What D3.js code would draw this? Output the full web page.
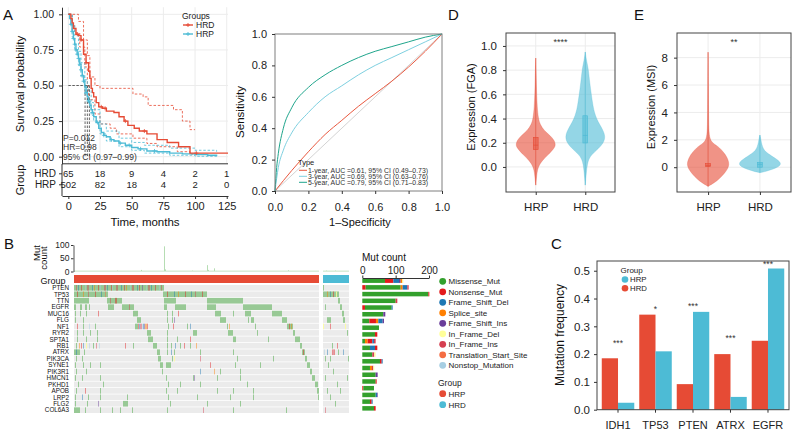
<!DOCTYPE html>
<html>
<head>
<meta charset="utf-8">
<title>HRD / HRP figure</title>
<script src="https://cdn.jsdelivr.net/npm/d3@7"></script>
<style>
  body { margin: 0; background: #fff; }
  svg { font-family: "Liberation Sans", Arial, Helvetica, sans-serif; }
</style>
</head>
<body>
<svg id="fig" width="793" height="434"></svg>
<script>
// ---------- data ----------
const red = "#E64B35", cyan = "#4DBBD5";

// A: Kaplan-Meier (time in months, survival)
const kmTicks = [0, 25, 50, 75, 100, 125];
const kmHRD = [[0,1],[2,0.97],[3,0.94],[4,0.9],[6,0.86],[8,0.85],[10,0.82],[12,0.72],[14,0.66],[16,0.6],[17,0.55],[18,0.48],[19,0.45],[20,0.42],[22,0.38],[24,0.35],[27,0.34],[30,0.32],[36,0.31],[40,0.28],[44,0.25],[47,0.22],[52,0.2],[56,0.18],[62,0.16],[70,0.12],[78,0.1],[87,0.07],[96,0.025],[126,0.025]];
const kmHRP = [[0,1],[1,0.97],[2,0.93],[3,0.88],[4,0.83],[5,0.79],[6,0.75],[7,0.72],[8,0.69],[9,0.65],[10,0.61],[11,0.57],[12,0.53],[13,0.49],[14,0.45],[15,0.42],[16,0.39],[17,0.36],[18,0.33],[19,0.31],[20,0.28],[22,0.24],[24,0.2],[26,0.17],[28,0.15],[30,0.14],[33,0.12],[36,0.11],[40,0.095],[45,0.08],[50,0.065],[55,0.055],[62,0.04],[70,0.035],[80,0.025],[90,0.02],[100,0.015],[110,0.01],[117,0.005]];
const kmHRDUpper = [[0,1],[2,1],[8,0.95],[12,0.82],[15,0.71],[17,0.56],[21,0.5],[25,0.48],[51,0.44],[59,0.42],[63,0.36],[83,0.33],[90,0.25],[96,0.19],[100,0.19]];
const kmHRDLower = [[0,1],[3,0.93],[5,0.87],[9,0.77],[13,0.63],[15,0.5],[16,0.4],[21,0.3],[25,0.23],[33,0.2],[38,0.16],[51,0.13],[62,0.093],[70,0.07],[86,0.035],[96,0.018],[100,0.018]];
const kmHRPUpper = [[0,1],[3,0.92],[5,0.85],[8,0.74],[10,0.66],[13,0.54],[15,0.47],[18,0.38],[20,0.33],[25,0.23],[30,0.18],[40,0.13],[50,0.1],[60,0.08],[80,0.06],[100,0.045],[117,0.035]];
const kmHRPLower = [[0,1],[3,0.84],[5,0.75],[8,0.64],[10,0.56],[13,0.44],[15,0.38],[18,0.29],[20,0.25],[25,0.16],[30,0.11],[40,0.07],[50,0.045],[60,0.025],[80,0.01],[100,0.003],[117,0]];
const kmHRDCensor = [7, 10, 14, 26, 29, 45, 60, 101];
const kmHRPCensor = [2, 3, 4, 5, 6, 7, 8, 9, 10, 11, 12, 14, 16, 19, 23, 28, 34, 41, 48, 57, 68];
const kmMedianTimes = [13.2, 15, 16.6];
const kmStats = ["P=0.012", "HR=0.98", "95% CI (0.97–0.99)"];
const riskGroups = ["HRD", "HRP"];
const riskHRD = [65, 18, 9, 4, 2, 1];
const riskHRP = [502, 82, 18, 4, 2, 0];

// A: time-dependent ROC (1-specificity, sensitivity)
const roc1 = [[0,0],[0.1,0.13],[0.2,0.25],[0.3,0.36],[0.4,0.45],[0.5,0.54],[0.6,0.62],[0.7,0.7],[0.8,0.79],[0.9,0.89],[1,1]];
const roc3 = [[0,0],[0.02,0.15],[0.05,0.26],[0.1,0.37],[0.2,0.5],[0.3,0.6],[0.4,0.67],[0.5,0.74],[0.6,0.8],[0.7,0.85],[0.8,0.9],[0.9,0.95],[1,1]];
const roc5 = [[0,0],[0.01,0.15],[0.02,0.24],[0.05,0.4],[0.1,0.53],[0.2,0.66],[0.3,0.74],[0.4,0.8],[0.5,0.85],[0.6,0.89],[0.7,0.92],[0.8,0.95],[0.9,0.98],[1,1]];
const rocLabels = ["1-year, AUC =0.61, 95% CI (0.49–0.73)", "3-year, AUC =0.69, 95% CI (0.63–0.76)", "5-year, AUC =0.79, 95% CI (0.71–0.83)"];
const rocColors = ["#E9583F", "#7ED0E0", "#1FA58C"];

// D / E: violin outlines (value, relative half width) and boxes [q1, median, q3]
const violinGroups = ["HRP", "HRD"];
const fgaHRP = [[-0.15,0],[-0.1,0.03],[-0.05,0.06],[0,0.12],[0.05,0.3],[0.1,0.62],[0.15,0.9],[0.18,1],[0.22,0.93],[0.26,0.72],[0.3,0.42],[0.35,0.22],[0.4,0.13],[0.5,0.07],[0.6,0.045],[0.7,0.03],[0.8,0.018],[0.9,0]];
const fgaHRD = [[-0.15,0],[-0.05,0.05],[0.05,0.12],[0.1,0.3],[0.15,0.65],[0.2,0.92],[0.25,1],[0.3,0.9],[0.35,0.72],[0.4,0.56],[0.45,0.46],[0.5,0.39],[0.6,0.3],[0.7,0.22],[0.8,0.16],[0.85,0.1],[0.9,0.04],[0.95,0]];
const fgaBox = [[0.143, 0.18, 0.245], [0.198, 0.26, 0.423]];
const msiHRP = [[-1.4,0],[-1.2,0.22],[-1,0.42],[-0.7,0.63],[-0.4,0.8],[-0.1,0.94],[0.2,1],[0.5,0.96],[0.8,0.87],[1,0.78],[1.3,0.62],[1.5,0.48],[1.7,0.28],[1.9,0.14],[2.2,0.07],[2.6,0.045],[3,0.032],[4,0.022],[6,0.013],[8.4,0]];
const msiHRD = [[-0.4,0],[-0.3,0.3],[-0.15,0.6],[0,0.85],[0.2,1],[0.4,0.95],[0.6,0.78],[0.8,0.58],[1,0.38],[1.2,0.22],[1.5,0.12],[1.8,0.07],[2.1,0.04],[2.35,0]];
const msiBox = [[0.05, 0.12, 0.27], [0.0, 0.2, 0.35]];

// B: oncoplot
const genes = ["PTEN","TP53","TTN","EGFR","MUC16","FLG","NF1","RYR2","SPTA1","RB1","ATRX","PIK3CA","SYNE1","PIK3R1","HMCN1","PKHD1","APOB","LRP2","FLG2","COL6A3"];
const mutTypes = ["Missense_Mut","Nonsense_Mut","Frame_Shift_Del","Splice_site","Frame_Shift_Ins","In_Frame_Del","In_Frame_Ins","Translation_Start_Site","Nonstop_Mutation"];
const mutCodes = ["M","N","D","S","I","d","i","T","X"];
const mutColors = ["#33A02C","#E31A1C","#1F78B4","#FF7F00","#6A3D9A","#FFFF99","#D53E4F","#F46D43","#A6CEE3"];
const groupNames = ["HRP", "HRD"];
const hrpN = 245, hrdN = 26;
// [start, end, type] ; [i] ; [i, type]
const hrpMuts = {
  PTEN: [[0,89],[2,"i"],[4,"D"],[7,"N"],[11,"X"],[13,14,"i"],[18,"D"],[20,"S"],[24,"N"],[26,"X"],[30,31,"i"],[33,"D"],[37,"N"],[38,"X"],[42,43,"i"],[47,"D"],[50,"N"],[52,"S"],[56,"X"],[58,59,"i"],[63,"D"],[65,"N"],[68,"I"],[72,"X"],[74,75,"i"],[77,"D"],[81,"N"],[85,"X"],[87,"i"]],
  TP53: [[0,33],[89,132],[3,"N"],[9,"S"],[14,"i"],[21,"N"],[27,"D"],[31,"T"],[93,"N"],[100,"D"],[104,"S"],[111,"N"],[117,"D"],[121,"i"],[128,"N"]],
  TTN: [[0,14],[33,47],[90,101],[133,168],[36,"i"],[41,42,"N"]],
  EGFR: [[0,1],[6,7],[11,12],[15],[34,39],[48,59],[90,92],[101,111],[133,141],[169,197],[55,"i"]],
  MUC16: [[1],[6],[12],[24,"N"],[59,63],[93],[98],[141,146],[159],[171,176],[198,207],[104,"N"]],
  FLG: [[1],[9],[63,66],[93],[98],[100,"I"],[146,151],[174],[177,179],[208,212]],
  NF1: [[3,"N"],[9],[15,"X"],[21],[61,63],[64,"N"],[65,"D"],[66,67,"i"],[68,"X"],[69,"D"],[70,"I"],[71,72,"S"],[73,"N"],[94],[99,"N"],[113],[116,"D"],[153],[155,"S"],[181],[213,218],[215,"N"],[217,"S"]],
  RYR2: [[3],[9],[16],[23],[73,76],[93],[119,122],[154,158],[183],[219,220]],
  SPTA1: [[3],[12],[23],[74,78],[93],[103],[116,"N"],[159,161],[194],[221,225]],
  RB1: [[2],[5,"S"],[7,"N"],[9,"D"],[12,"d"],[15,"X"],[19],[22,"i"],[25,"X"],[51,"N"],[59],[79,82],[93],[97],[101,"D"],[106],[110,"N"],[116],[122,"S"],[226,227]],
  ATRX: [[0,5],[2,"D"],[10],[83,85],[93],[97,"D"],[100],[126],[159],[228,230],[229,"N"]],
  PIK3CA: [[2],[8],[84,86],[98],[100,"d"],[126,"i"],[163],[199],[231,232]],
  SYNE1: [[1],[9],[16],[26],[86,88],[92,96],[136,"N"],[161],[186],[233,235]],
  PIK3R1: [[2],[12],[88],[126,"D"],[140,"S"],[146],[166],[236,237]],
  HMCN1: [[1],[8],[26],[92],[119],[120,"I"],[143],[166],[238,240]],
  PKHD1: [[4],[29],[94],[106],[126],[173],[241,243]],
  APOB: [[2],[11,"N"],[26],[92],[103],[143],[159],[179],[243,244]],
  LRP2: [[1],[8,"D"],[14],[26],[53],[94],[123],[156],[179],[244]],
  FLG2: [[1],[13],[24,"I"],[49,53],[96],[133],[166]],
  COL6A3: [[0,5],[11],[26],[38],[46],[58],[93],[129,"i"],[159],[212]]
};
const hrdMuts = {
  PTEN: [[0]],
  TP53: [[0,15],[4,"S"],[7,"D"],[10,"N"],[13,"d"]],
  TTN: [[15,16]],
  EGFR: [[2],[17,18]],
  MUC16: [[19,20]],
  FLG: [[4,7],[20,21]],
  NF1: [[0,"d"],[7,"N"],[22,"d"]],
  RYR2: [[24]],
  SPTA1: [],
  RB1: [[9],[14,"N"]],
  ATRX: [[1,"X"],[4,"D"],[9,"N"],[10,"i"],[11,"N"],[15],[20,"D"]],
  PIK3CA: [[2],[7],[25]],
  SYNE1: [[5]],
  PIK3R1: [[10]],
  HMCN1: [[2],[24]],
  PKHD1: [[14]],
  APOB: [[4],[17]],
  LRP2: [[7]],
  FLG2: [[12]],
  COL6A3: [[2,"i"]]
};
// per-sample mutation burden: typical value plus the visible peaks [sample, count]
const hrpBurdenTypical = 3, hrdBurdenTypical = 3;
const hrpBurdenPeaks = [[90,95],[91,8],[133,24],[134,6],[140,12],[67,6],[43,4],[214,5],[118,4]];
const hrdBurdenPeaks = [[3,4],[12,4]];
const burdenTicks = [0, 50, 100];
// per-gene mutation counts by type (code, count)
const geneCounts = {
  PTEN: [["M",68],["N",25],["D",17],["I",5],["S",5],["d",3]],
  TP53: [["N",10],["M",105],["S",6],["D",14],["i",4]],
  TTN: [["M",198],["N",3]],
  EGFR: [["M",100],["i",5]],
  MUC16: [["N",8],["M",80],["D",3]],
  FLG: [["M",63],["I",6]],
  NF1: [["M",21],["N",20],["S",7],["D",13],["I",4]],
  RYR2: [["M",50]],
  SPTA1: [["M",38],["N",7]],
  RB1: [["M",8],["S",8],["N",14],["D",5],["i",5]],
  ATRX: [["M",23],["D",15],["N",7]],
  PIK3CA: [["M",30],["i",6],["d",4]],
  SYNE1: [["M",53],["N",5],["D",3]],
  PIK3R1: [["M",23],["S",6],["i",4],["d",3]],
  HMCN1: [["M",40],["I",6]],
  PKHD1: [["M",40],["N",3]],
  APOB: [["N",3],["M",32]],
  LRP2: [["M",40],["D",4],["I",2]],
  FLG2: [["M",23],["N",5],["D",3]],
  COL6A3: [["M",35],["N",5]]
};
const countTicks = [0, 100, 200];

// C: mutation frequency
const cGenes = ["IDH1","TP53","PTEN","ATRX","EGFR"];
const cHRD = [0.185, 0.342, 0.092, 0.2, 0.248];
const cHRP = [0.025, 0.21, 0.352, 0.046, 0.508];
const cSig = ["***", "*", "***", "***", "***"];
const cSigAt = [0.247, 0.369, 0.377, 0.263, 0.528];
const cTicks = [0, 0.1, 0.2, 0.3, 0.4, 0.5];

// ---------- drawing ----------
const svg = d3.select("#fig");
svg.append("rect").attr("width", 793).attr("height", 434).attr("fill", "#fff");

function styleAxis(g, fs) {
  g.attr("font-family", null).attr("font-size", fs);
  g.selectAll("text").attr("fill", "#222");
  g.selectAll(".tick line").attr("stroke", "#333");
  g.select(".domain").attr("stroke", "#333");
  return g;
}
function label(x, y, s, fs, anchor, rot) {
  const t = svg.append("text").attr("font-size", fs).attr("fill", "#111")
    .attr("text-anchor", anchor || "start").text(s);
  if (rot) t.attr("transform", `translate(${x},${y}) rotate(-90)`);
  else t.attr("x", x).attr("y", y);
  return t;
}
// panel letters
[["A",3,20],["D",448,20],["E",634,20],["B",4,249],["C",551,249]].forEach(d => label(d[1], d[2], d[0], 15));

// ===== A: KM =====
const kmX = d3.scaleLinear().domain([-5, 126]).range([62, 228]);
const kmY = d3.scaleLinear().domain([-0.05, 1.05]).range([163.8, 7.2]);
const km = svg.append("g");
km.append("g").selectAll("line").data(kmTicks).join("line")
  .attr("x1", d => kmX(d)).attr("x2", d => kmX(d)).attr("y1", kmY.range()[0]).attr("y2", kmY.range()[1])
  .attr("stroke", "#ececec");
km.append("g").selectAll("line").data([0, 0.25, 0.5, 0.75, 1]).join("line")
  .attr("x1", 62).attr("x2", 228).attr("y1", d => kmY(d)).attr("y2", d => kmY(d)).attr("stroke", "#ececec");

const step = d3.line().curve(d3.curveStepAfter).x(d => kmX(d[0])).y(d => kmY(d[1]));
[[kmHRDUpper, red], [kmHRDLower, red], [kmHRPUpper, cyan], [kmHRPLower, cyan]].forEach(([d, c]) =>
  km.append("path").attr("d", step(d)).attr("fill", "none").attr("stroke", c)
    .attr("stroke-width", 0.8).attr("stroke-dasharray", "2.5,1.8"));

// median lines
const medMax = d3.max(kmMedianTimes);
km.append("line").attr("x1", kmX(0)).attr("x2", kmX(medMax)).attr("y1", kmY(0.5)).attr("y2", kmY(0.5))
  .attr("stroke", "#222").attr("stroke-width", 0.7).attr("stroke-dasharray", "2.5,1.5");
km.selectAll(".med").data(kmMedianTimes).join("line")
  .attr("x1", d => kmX(d)).attr("x2", d => kmX(d)).attr("y1", kmY(0.5)).attr("y2", kmY(0))
  .attr("stroke", "#222").attr("stroke-width", 0.7).attr("stroke-dasharray", "2.5,1.5");

function survAt(curve, t) {
  let s = curve[0][1];
  for (const p of curve) { if (p[0] <= t) s = p[1]; else break; }
  return s;
}
[[kmHRP, kmHRPCensor, cyan], [kmHRD, kmHRDCensor, red]].forEach(([d, cens, c]) => {
  km.append("path").attr("d", step(d)).attr("fill", "none").attr("stroke", c).attr("stroke-width", 1.4);
  km.append("g").selectAll("path").data(cens).join("path")
    .attr("d", t => { const x = kmX(t), y = kmY(survAt(d, t)); return `M${x-2},${y}H${x+2}M${x},${y-2}V${y+2}`; })
    .attr("stroke", c).attr("stroke-width", 0.8);
});
kmStats.forEach((s, i) => km.append("text").attr("x", 63).attr("y", 140.5 + i * 9.8)
  .attr("font-size", 8.5).attr("fill", "#333").text(s));
// legend
km.append("text").attr("x", 182).attr("y", 19).attr("font-size", 8.5).attr("fill", "#222").text("Groups");
[["HRD", red], ["HRP", cyan]].forEach(([g, c], i) => {
  const y = 25 + i * 9;
  km.append("line").attr("x1", 183).attr("x2", 193).attr("y1", y).attr("y2", y).attr("stroke", c).attr("stroke-width", 1.4);
  km.append("path").attr("d", `M186,${y}H190M188,${y-2}V${y+2}`).attr("stroke", c).attr("stroke-width", 0.9);
  km.append("text").attr("x", 196).attr("y", y + 3).attr("font-size", 8.5).attr("fill", "#222").text(g);
});
styleAxis(km.append("g").attr("transform", "translate(62,0)")
  .call(d3.axisLeft(kmY).tickValues([0, 0.25, 0.5, 0.75, 1]).tickFormat(d3.format(".2f")).tickSize(3).tickSizeOuter(0).tickPadding(5)), 10.5);
km.append("line").attr("x1", 62).attr("x2", 228).attr("y1", 163.8).attr("y2", 163.8).attr("stroke", "#333");
label(24, 84, "Survival probability", 11.5, "middle", true);

// risk table
const riskY = d3.scalePoint().domain(riskGroups).range([173.3, 184.3]);
const rt = styleAxis(km.append("g").attr("transform", "translate(62,0)")
  .call(d3.axisLeft(riskY).tickSize(3).tickPadding(3)), 10);
rt.select(".domain").remove();
km.append("line").attr("x1", 62).attr("x2", 62).attr("y1", 164).attr("y2", 196).attr("stroke", "#333");
[[riskHRD, "HRD"], [riskHRP, "HRP"]].forEach(([vals, g]) =>
  km.append("g").selectAll("text").data(vals).join("text")
    .attr("x", (d, i) => kmX(kmTicks[i])).attr("y", riskY(g)).attr("dy", "0.35em")
    .attr("text-anchor", "middle").attr("font-size", 9.5).attr("fill", "#222").text(d => d));
styleAxis(km.append("g").attr("transform", "translate(0,196)")
  .call(d3.axisBottom(kmX).tickValues(kmTicks).tickSize(3).tickSizeOuter(0).tickPadding(3)), 11);
label(24, 180, "Group", 11, "middle", true);
label(145, 226, "Time, months", 11.5, "middle");

// ===== A: ROC =====
const rocX = d3.scaleLinear().domain([0, 1]).range([275, 442]);
const rocY = d3.scaleLinear().domain([0, 1]).range([191, 34]);
const roc = svg.append("g");
roc.append("line").attr("x1", rocX(0)).attr("y1", rocY(0)).attr("x2", rocX(1)).attr("y2", rocY(1)).attr("stroke", "#c8c8c8").attr("stroke-width", 0.8);
const rocLine = d3.line().curve(d3.curveMonotoneX).x(d => rocX(d[0])).y(d => rocY(d[1]));
[roc1, roc3, roc5].forEach((d, i) => roc.append("path").attr("d", rocLine(d)).attr("fill", "none")
  .attr("stroke", rocColors[i]).attr("stroke-width", 1));
roc.append("rect").attr("x", 275).attr("y", 34).attr("width", 167).attr("height", 157)
  .attr("fill", "none").attr("stroke", "#7f7f7f");
const rocTicks = [0, 0.2, 0.4, 0.6, 0.8, 1];
styleAxis(roc.append("g").attr("transform", "translate(275,0)")
  .call(d3.axisLeft(rocY).tickValues(rocTicks).tickFormat(d3.format(".1f")).tickSize(3).tickPadding(5)), 11)
  .select(".domain").remove();
styleAxis(roc.append("g").attr("transform", "translate(0,191)")
  .call(d3.axisBottom(rocX).tickValues(rocTicks).tickFormat(d3.format(".1f")).tickSize(3).tickPadding(9)), 11)
  .select(".domain").remove();
roc.append("text").attr("x", 298).attr("y", 165).attr("font-size", 7.5).attr("fill", "#222").text("Type");
rocLabels.forEach((s, i) => {
  const y = 170.3 + i * 6;
  roc.append("line").attr("x1", 299).attr("x2", 307).attr("y1", y).attr("y2", y).attr("stroke", rocColors[i]);
  roc.append("text").attr("x", 308).attr("y", y + 2.4).attr("font-size", 6.9).attr("fill", "#333").text(s);
});
label(244, 112, "Sensitivity", 11.5, "middle", true);
label(360, 225.5, "1–Specificity", 11, "middle");

// ===== D / E: violins =====
function violinPanel(opt) {
  const g = svg.append("g");
  const x = d3.scalePoint().domain(violinGroups).range([opt.x0, opt.x1]).padding(0.6);
  const y = d3.scaleLinear().domain(opt.dom).range([192, 33]);
  g.append("g").selectAll("line").data(opt.ticks).join("line")
    .attr("x1", opt.x0).attr("x2", opt.x1).attr("y1", d => y(d)).attr("y2", d => y(d)).attr("stroke", "#ececec");
  g.append("g").selectAll("line").data(violinGroups).join("line")
    .attr("x1", d => x(d)).attr("x2", d => x(d)).attr("y1", 33).attr("y2", 192).attr("stroke", "#ececec");
  const cols = [red, cyan];
  opt.profiles.forEach((prof, i) => {
    const xc = x(violinGroups[i]);
    const area = d3.area().curve(d3.curveBasis).y(d => y(d[0]))
      .x0(d => xc - d[1] * opt.wMax).x1(d => xc + d[1] * opt.wMax);
    g.append("path").attr("d", area(prof)).attr("fill", cols[i]).attr("fill-opacity", 0.6)
      .attr("stroke", cols[i]).attr("stroke-opacity", 0.45).attr("stroke-width", 0.6);
    const ext = d3.extent(prof, d => d[0]);
    g.append("line").attr("x1", xc).attr("x2", xc).attr("y1", y(ext[0])).attr("y2", y(ext[1]))
      .attr("stroke", cols[i]).attr("stroke-opacity", 0.7).attr("stroke-width", 0.8);
    const b = opt.boxes[i];
    g.append("rect").attr("x", xc - 2.4).attr("width", 4.8).attr("y", y(b[2])).attr("height", y(b[0]) - y(b[2]))
      .attr("fill", cols[i]).attr("fill-opacity", 0.5).attr("stroke", cols[i]).attr("stroke-width", 0.6);
    g.append("line").attr("x1", xc - 2.4).attr("x2", xc + 2.4).attr("y1", y(b[1])).attr("y2", y(b[1]))
      .attr("stroke", cols[i]).attr("stroke-width", 0.6);
  });
  g.append("rect").attr("x", opt.x0).attr("y", 33).attr("width", opt.x1 - opt.x0).attr("height", 159)
    .attr("fill", "none").attr("stroke", "#444");
  styleAxis(g.append("g").attr("transform", `translate(${opt.x0},0)`)
    .call(d3.axisLeft(y).tickValues(opt.ticks).tickFormat(d3.format(opt.fmt)).tickSize(3).tickPadding(6)), 11.5)
    .select(".domain").remove();
  styleAxis(g.append("g").attr("transform", "translate(0,192)")
    .call(d3.axisBottom(x).tickSize(3).tickPadding(8)), 11.5).select(".domain").remove();
  g.append("text").attr("x", (opt.x0 + opt.x1) / 2).attr("y", 45).attr("text-anchor", "middle")
    .attr("font-size", 9).attr("fill", "#333").text(opt.sig);
  label(opt.titleX, 107, opt.title, 11, "middle", true);
}
violinPanel({ x0: 506, x1: 615, dom: [-0.207, 1.107], ticks: [0, 0.2, 0.4, 0.6, 0.8, 1], fmt: ".1f",
  profiles: [fgaHRP, fgaHRD], boxes: fgaBox, wMax: 20, sig: "****", title: "Expression (FGA)", titleX: 475 });
violinPanel({ x0: 677, x1: 791, dom: [-1.81, 9.8], ticks: [0, 2, 4, 6, 8], fmt: "d",
  profiles: [msiHRP, msiHRD], boxes: msiBox, wMax: 21, sig: "**", title: "Expression (MSI)", titleX: 655 });

// ===== B: oncoplot =====
const ob = svg.append("g");
const onX = [d3.scaleLinear().domain([0, hrpN]).range([74, 319]), d3.scaleLinear().domain([0, hrdN]).range([323, 349])];
const onY = d3.scaleBand().domain(genes).range([285, 413]).paddingInner(0.12);
const burdenY = d3.scaleLinear().domain([0, 100]).range([271.5, 245]);
const typeColor = c => mutColors[mutCodes.indexOf(c)];
function norm(e) {
  if (e.length === 1) return [e[0], e[0], "M"];
  if (typeof e[1] === "string") return [e[0], e[0], e[1]];
  return [e[0], e[1], e[2] || "M"];
}
[hrpMuts, hrdMuts].forEach((muts, k) => {
  const xs = onX[k];
  ob.append("g").selectAll("rect").data(genes).join("rect")
    .attr("x", xs.range()[0]).attr("width", xs.range()[1] - xs.range()[0])
    .attr("y", d => onY(d)).attr("height", onY.bandwidth()).attr("fill", "#ebebeb");
  genes.forEach(gname => {
    const cells = muts[gname].map(norm);
    ob.append("g").selectAll("rect").data(cells).join("rect")
      .attr("x", d => xs(d[0])).attr("width", d => xs(d[1] + 1) - xs(d[0]))
      .attr("y", onY(gname)).attr("height", onY.bandwidth())
      .attr("fill", d => typeColor(d[2])).attr("fill-opacity", d => d[2] === "d" ? 0.8 : 0.45);
  });
  ob.append("rect").attr("x", xs.range()[0]).attr("width", xs.range()[1] - xs.range()[0])
    .attr("y", 275).attr("height", 8).attr("fill", k === 0 ? red : cyan);
  const n = k === 0 ? hrpN : hrdN;
  const typical = k === 0 ? hrpBurdenTypical : hrdBurdenTypical;
  const peaks = new Map(k === 0 ? hrpBurdenPeaks : hrdBurdenPeaks);
  const burden = d3.range(n).map(i => [i, peaks.has(i) ? peaks.get(i) : typical]);
  ob.append("g").selectAll("rect").data(burden).join("rect")
    .attr("x", d => xs(d[0]) + 0.1).attr("width", d => xs(d[0] + 1) - xs(d[0]) - 0.2)
    .attr("y", d => burdenY(d[1])).attr("height", d => burdenY(0) - burdenY(d[1]))
    .attr("fill", "#33A02C").attr("fill-opacity", 0.45);
});
styleAxis(ob.append("g").attr("transform", "translate(73.5,0)")
  .call(d3.axisLeft(burdenY).tickValues(burdenTicks).tickSize(2.5).tickSizeOuter(0).tickPadding(1.5)), 8.5)
  .select(".domain").attr("stroke", "#555");
label(40, 253, "Mut", 9.5, "middle", true);
label(47, 258, "count", 9.5, "middle", true);
label(65.5, 283.5, "Group", 9, "end");
ob.append("g").selectAll("text").data(genes).join("text")
  .attr("x", 69).attr("y", d => onY(d) + onY.bandwidth() / 2).attr("dy", "0.36em")
  .attr("text-anchor", "end").attr("font-size", 6.3).attr("fill", "#111").text(d => d);

// gene mutation count bars
const bx = d3.scaleLinear().domain([0, 200]).range([362.3, 429]);
const by = d3.scaleBand().domain(genes).range([278.4, 410.6]).paddingInner(0.33);
genes.forEach(gname => {
  let acc = 0;
  const segs = geneCounts[gname].map(([c, v]) => { const s = [c, acc, acc + v]; acc += v; return s; });
  ob.append("g").selectAll("rect").data(segs).join("rect")
    .attr("x", d => bx(d[1])).attr("width", d => bx(d[2]) - bx(d[1]))
    .attr("y", by(gname)).attr("height", by.bandwidth()).attr("fill", d => typeColor(d[0]));
});
styleAxis(ob.append("g").attr("transform", "translate(0,278)")
  .call(d3.axisTop(bx).tickValues(countTicks).tickSize(2.5).tickSizeOuter(0).tickPadding(2)), 10);
label(362, 261, "Mut count", 10, "start");

// legend B
mutTypes.forEach((t, i) => {
  const y = 281.3 + i * 10.5;
  ob.append("circle").attr("cx", 442.7).attr("cy", y).attr("r", 3.4).attr("fill", mutColors[i]);
  ob.append("text").attr("x", 448.5).attr("y", y + 2.9).attr("font-size", 8).attr("fill", "#222").text(t);
});
label(438, 386, "Group", 8.5, "start").attr("fill", "#222");
groupNames.forEach((g, i) => {
  const y = 393.7 + i * 11;
  ob.append("circle").attr("cx", 442.7).attr("cy", y).attr("r", 3.4).attr("fill", i === 0 ? red : cyan);
  ob.append("text").attr("x", 448.5).attr("y", y + 2.9).attr("font-size", 8).attr("fill", "#222").text(g);
});

// ===== C: mutation frequency =====
const cx = d3.scaleBand().domain(cGenes).range([597, 789]).paddingInner(0.133).paddingOuter(0.127);
const cSub = d3.scaleBand().domain(["HRD", "HRP"]).range([0, cx.bandwidth()]);
const cy = d3.scaleLinear().domain([0, 0.535]).range([409.7, 261]);
const cg = svg.append("g");
cGenes.forEach((gname, i) => {
  [["HRD", cHRD[i], red], ["HRP", cHRP[i], cyan]].forEach(([grp, v, col]) =>
    cg.append("rect").attr("x", cx(gname) + cSub(grp)).attr("width", cSub.bandwidth())
      .attr("y", cy(v)).attr("height", cy(0) - cy(v)).attr("fill", col));
});
cg.append("g").selectAll("text").data(cGenes).join("text")
  .attr("x", d => cx(d) + cx.bandwidth() / 2).attr("y", (d, i) => cy(cSigAt[i]) + 4.5)
  .attr("text-anchor", "middle").attr("font-size", 8.5).attr("fill", "#333").text((d, i) => cSig[i]);
cg.append("rect").attr("x", 597).attr("y", 261).attr("width", 192).attr("height", 148.7)
  .attr("fill", "none").attr("stroke", "#444");
styleAxis(cg.append("g").attr("transform", "translate(597,0)")
  .call(d3.axisLeft(cy).tickValues(cTicks).tickFormat(d3.format(".1f")).tickSize(3).tickPadding(4)), 11.5)
  .select(".domain").remove();
styleAxis(cg.append("g").attr("transform", "translate(0,409.7)")
  .call(d3.axisBottom(cx).tickSize(3).tickPadding(9)), 11).select(".domain").remove();
label(564, 335, "Mutation frequency", 12, "middle", true);
cg.append("text").attr("x", 620.5).attr("y", 273.3).attr("font-size", 8).attr("fill", "#222").text("Group");
[["HRP", cyan], ["HRD", red]].forEach(([g, c], i) => {
  const y = 279.5 + i * 8.7;
  cg.append("circle").attr("cx", 625).attr("cy", y).attr("r", 3.3).attr("fill", c);
  cg.append("text").attr("x", 630).attr("y", y + 2.8).attr("font-size", 7.8).attr("fill", "#222").text(g);
});
</script>
</body>
</html>
